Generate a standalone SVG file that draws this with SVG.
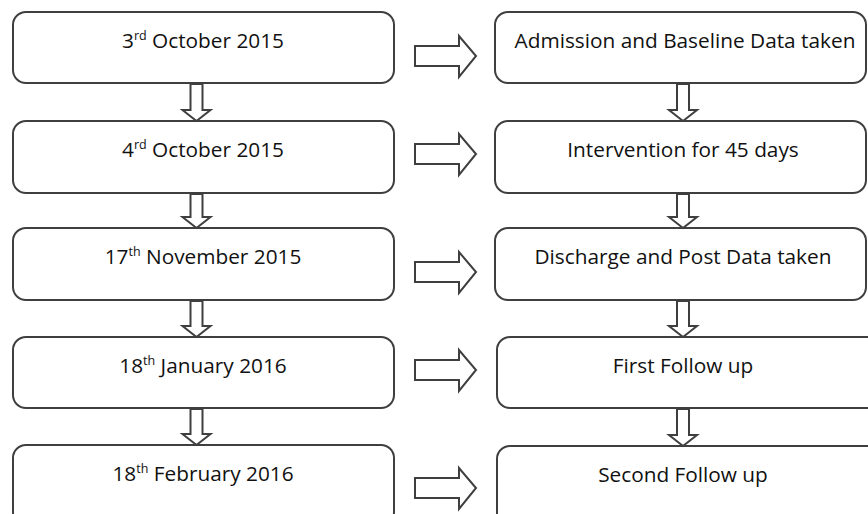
<svg xmlns="http://www.w3.org/2000/svg" width="868" height="514" viewBox="0 0 868 514">
<style>
.box{fill:#ffffff;stroke:#3f3f3f;stroke-width:2}
.arr{fill:#ffffff;stroke:#3f3f3f;stroke-width:2;stroke-linejoin:miter}
.t{font-family:"Open Sans","Noto Sans",sans-serif;font-size:20.8px;fill:#111111;text-anchor:middle}
.sup{font-size:12.5px}
</style>
<rect width="868" height="514" fill="#ffffff"/>
<g id="d1"><rect class="box" x="13" y="12" width="381" height="71" rx="13"/><text class="t" x="203" y="48">3<tspan class="sup" dy="-8">rd</tspan><tspan dy="8"> October 2015</tspan></text></g>
<g id="d2"><rect class="box" x="13" y="121" width="381" height="72" rx="13"/><text class="t" x="203" y="157">4<tspan class="sup" dy="-8">rd</tspan><tspan dy="8"> October 2015</tspan></text></g>
<g id="d3"><rect class="box" x="13" y="228" width="381" height="72" rx="13"/><text class="t" x="203" y="264">17<tspan class="sup" dy="-8">th</tspan><tspan dy="8"> November 2015</tspan></text></g>
<g id="d4"><rect class="box" x="13" y="337" width="381" height="71" rx="13"/><text class="t" x="203" y="373">18<tspan class="sup" dy="-8">th</tspan><tspan dy="8"> January 2016</tspan></text></g>
<g id="d5"><rect class="box" x="13" y="445" width="381" height="80" rx="13"/><text class="t" x="203" y="481">18<tspan class="sup" dy="-8">th</tspan><tspan dy="8"> February 2016</tspan></text></g>
<g id="e1"><rect class="box" x="495" y="12" width="371" height="71" rx="13"/><text class="t" x="685" y="48">Admission and Baseline Data taken</text></g>
<g id="e2"><rect class="box" x="495" y="121" width="371" height="72" rx="13"/><text class="t" x="683" y="157">Intervention for 45 days</text></g>
<g id="e3"><rect class="box" x="495" y="228" width="371" height="72" rx="13"/><text class="t" x="683" y="264">Discharge and Post Data taken</text></g>
<g id="e4"><rect class="box" x="497" y="337" width="385" height="71" rx="13"/><text class="t" x="683" y="373">First Follow up</text></g>
<g id="e5"><rect class="box" x="497" y="446" width="385" height="80" rx="13"/><text class="t" x="683" y="482">Second Follow up</text></g>
<g id="connectors">
<polygon class="arr" points="415,46 459,46 459,36 476,56 459,77 459,66 415,66"/>
<polygon class="arr" points="415,144 459,144 459,134 476,154 459,175 459,164 415,164"/>
<polygon class="arr" points="415,262 459,262 459,252 476,272 459,293 459,282 415,282"/>
<polygon class="arr" points="415,360 459,360 459,350 476,370 459,391 459,380 415,380"/>
<polygon class="arr" points="415,478 459,478 459,468 476,488 459,509 459,498 415,498"/>
<polygon class="arr" points="190.5,84 202.5,84 202.5,110 210.5,110 196.5,121 182.5,110 190.5,110"/>
<polygon class="arr" points="190.5,194 202.5,194 202.5,217 210.5,217 196.5,228 182.5,217 190.5,217"/>
<polygon class="arr" points="190.5,301 202.5,301 202.5,326 210.5,326 196.5,337 182.5,326 190.5,326"/>
<polygon class="arr" points="190.5,409 202.5,409 202.5,434 210.5,434 196.5,445 182.5,434 190.5,434"/>
<polygon class="arr" points="677,84 689,84 689,110 697,110 683,121 669,110 677,110"/>
<polygon class="arr" points="677,194 689,194 689,217 697,217 683,228 669,217 677,217"/>
<polygon class="arr" points="677,301 689,301 689,326 697,326 683,337 669,326 677,326"/>
<polygon class="arr" points="677,409 689,409 689,435 697,435 683,446 669,435 677,435"/>
</g>
</svg>
